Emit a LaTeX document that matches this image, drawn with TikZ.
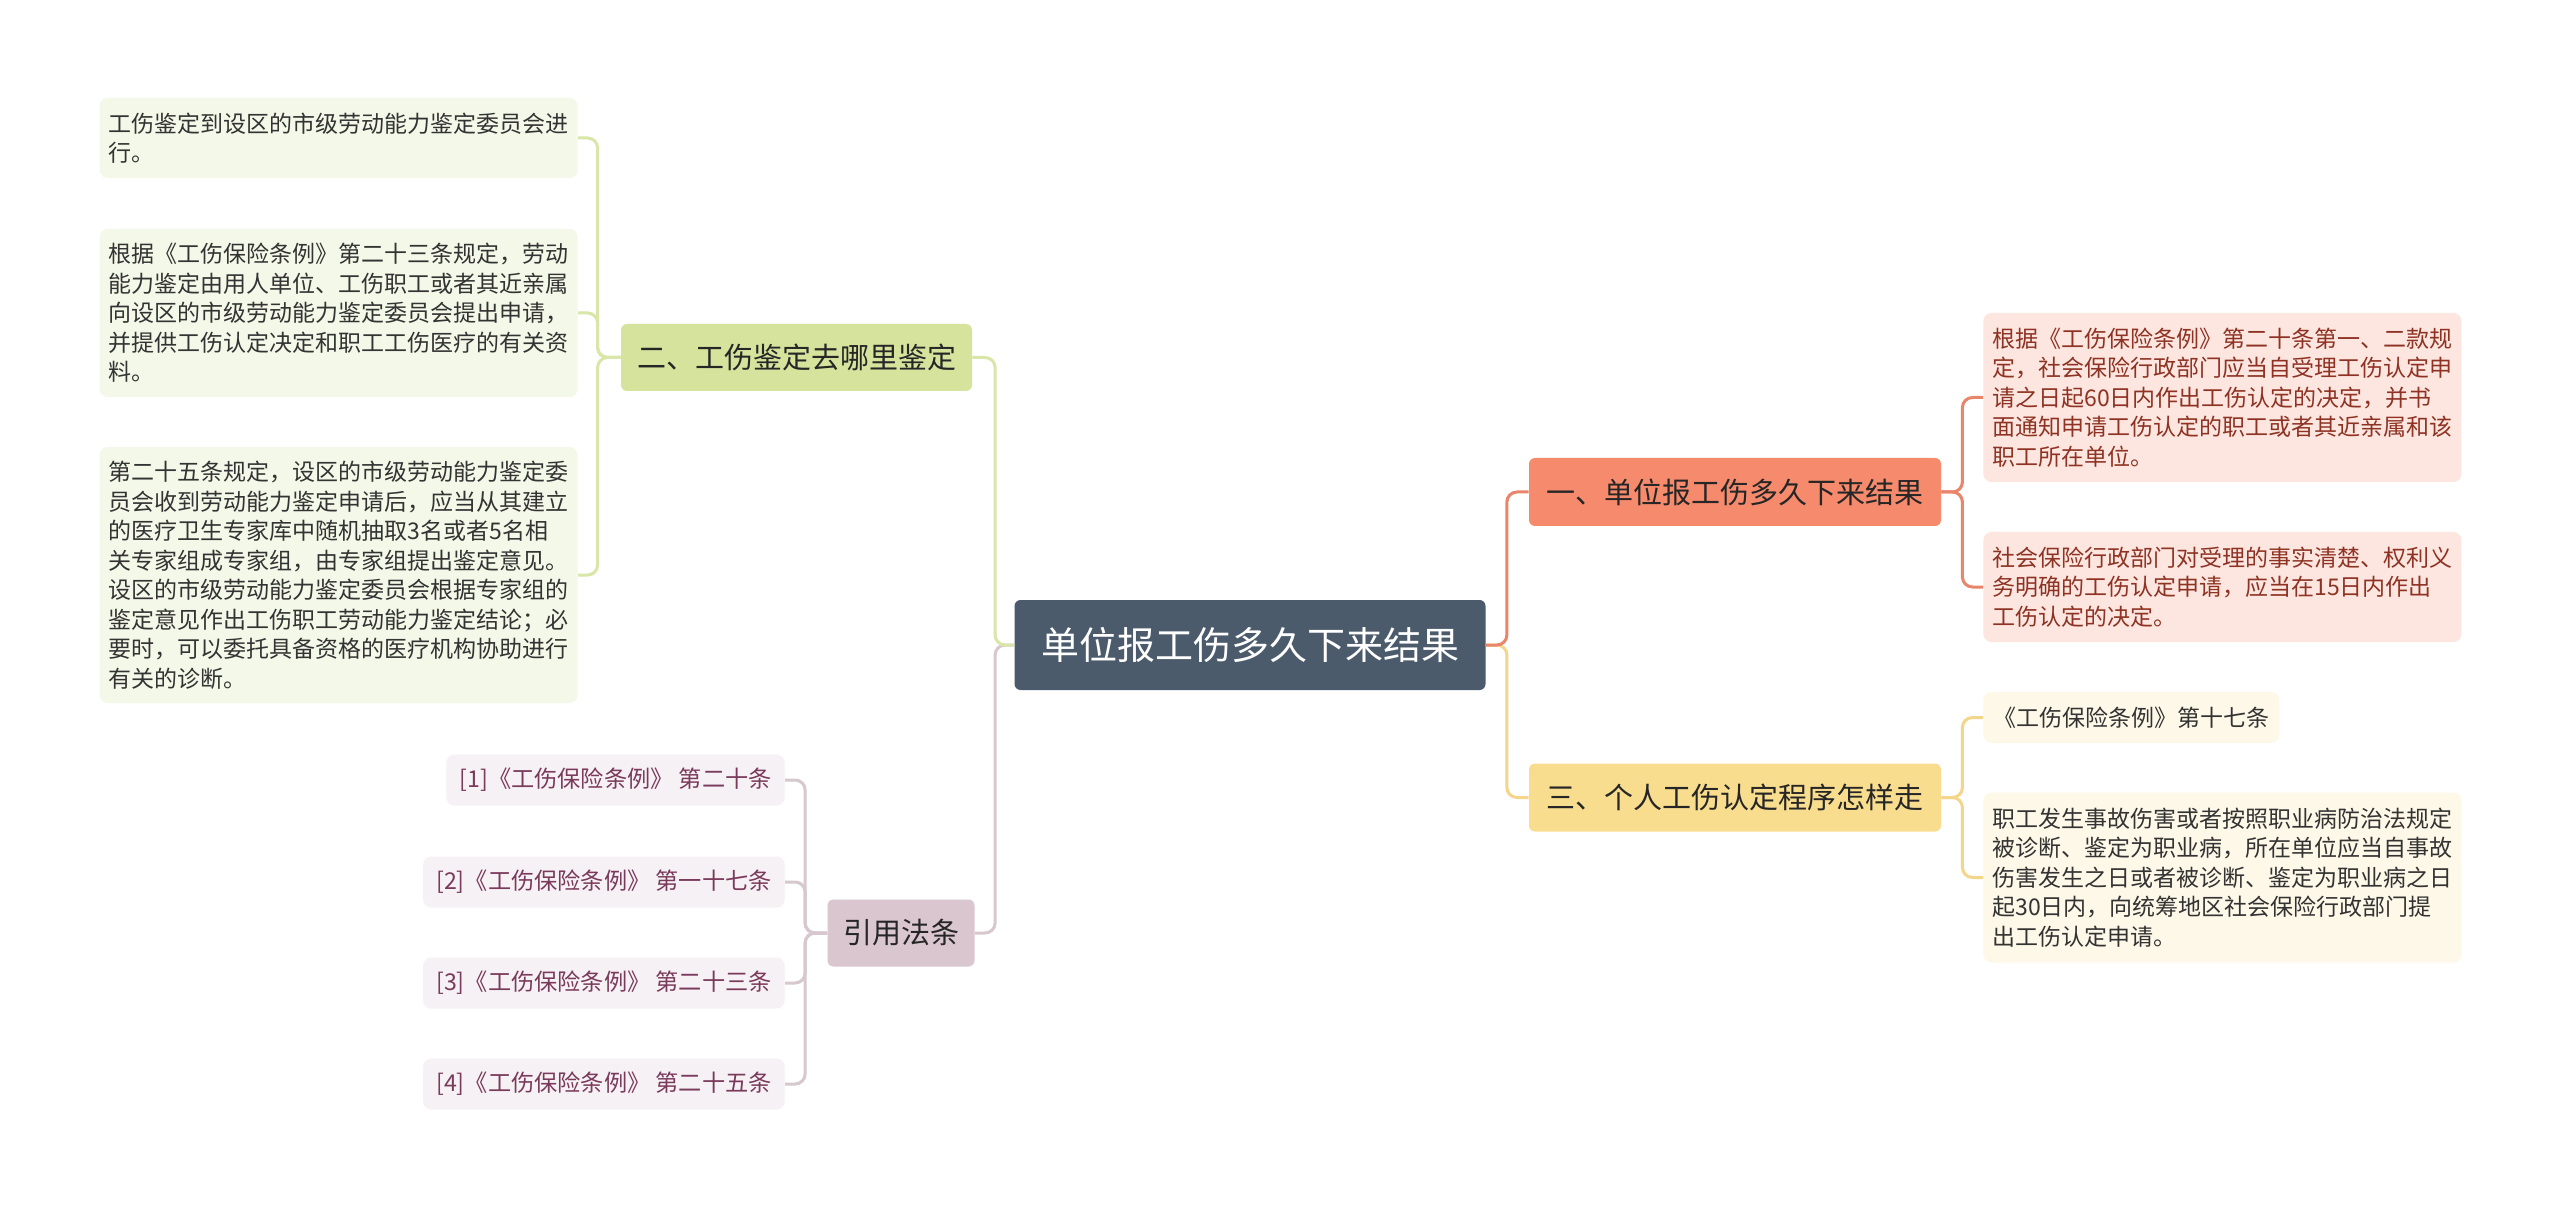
\documentclass[tikz,border=0pt]{standalone}
\usepackage{fontspec}
\setmainfont{Noto Sans CJK SC}
\usepackage{xcolor}
\definecolor{mmSlate}{HTML}{4B5B6B}
\definecolor{mmOrange}{HTML}{F68A6C}
\definecolor{mmOrangeLine}{HTML}{E9856B}
\definecolor{mmPink}{HTML}{FDE6E0}
\definecolor{mmPinkText}{HTML}{8E3323}
\definecolor{mmYellow}{HTML}{F8DD8E}
\definecolor{mmYellowLine}{HTML}{F3D68A}
\definecolor{mmCream}{HTML}{FEF8E8}
\definecolor{mmGreen}{HTML}{D5E39D}
\definecolor{mmGreenLine}{HTML}{D9E6A8}
\definecolor{mmPaleGreen}{HTML}{F4F8E8}
\definecolor{mmMauve}{HTML}{D9C6CE}
\definecolor{mmMauveLine}{HTML}{D6C8CE}
\definecolor{mmPaleMauve}{HTML}{F6F1F4}
\definecolor{mmPlumText}{HTML}{7A3A5C}
\usetikzlibrary{positioning}

\begin{document}
\begin{tikzpicture}[x=0.5pt,y=-0.5pt,
  box/.style={rounded corners=3pt,inner sep=0pt,align=center},
  topic/.style={box,font=\fontsize{14.5pt}{17pt}\selectfont,text=black!85,minimum height=34pt},
  leaf/.style={rounded corners=4pt,inner xsep=4.5pt,inner ysep=3pt,align=left,font=\fontsize{11.5pt}{14.75pt}\selectfont},
  para/.style={leaf,text width=230pt},
  ref/.style={rounded corners=4pt,inner xsep=6.5pt,minimum height=25.5pt,font=\fontsize{11.6pt}{14pt}\selectfont,text=mmPlumText,fill=mmPaleMauve,anchor=east},
  link/.style={line width=1.5pt,rounded corners=5pt}]
  \fill[white] (0,0) rectangle (2560,1208);
  \useasboundingbox (0,0) rectangle (2560,1208);

  % centre and main topics
  \node[box,fill=mmSlate,text=white,font=\fontsize{19pt}{22pt}\selectfont,minimum width=235.5pt,minimum height=45pt] (root) at (1250,645) {单位报工伤多久下来结果};
  \node[topic,fill=mmOrange,minimum width=206pt] (b1) at (1735,492) {一、单位报工伤多久下来结果};
  \node[topic,fill=mmYellow,minimum width=206pt] (b3) at (1735,797.5) {三、个人工伤认定程序怎样走};
  \node[topic,fill=mmGreen,minimum width=175.5pt,minimum height=33.5pt] (b2) at (796.5,357.5) {二、工伤鉴定去哪里鉴定};
  \node[topic,fill=mmMauve,minimum width=73.5pt,minimum height=33.5pt] (cite) at (901,933) {引用法条};

  % right leaves
  \node[para,fill=mmPink,text=mmPinkText,anchor=west,minimum height=84.5pt] (r1) at (1983,397.5)
    {根据《工伤保险条例》第二十条第一、二款规\\定，社会保险行政部门应当自受理工伤认定申\\请之日起60日内作出工伤认定的决定，并书\\面通知申请工伤认定的职工或者其近亲属和该\\职工所在单位。};
  \node[para,fill=mmPink,text=mmPinkText,anchor=west,minimum height=55pt] (r2) at (1983,587)
    {社会保险行政部门对受理的事实清楚、权利义\\务明确的工伤认定申请，应当在15日内作出\\工伤认定的决定。};
  \node[leaf,fill=mmCream,text=black!80,anchor=west,minimum height=25.5pt,inner xsep=5pt] (y1) at (1983,717.5) {《工伤保险条例》第十七条};
  \node[para,fill=mmCream,text=black!80,anchor=west,minimum height=85pt] (y2) at (1983,877.5)
    {职工发生事故伤害或者按照职业病防治法规定\\被诊断、鉴定为职业病，所在单位应当自事故\\伤害发生之日或者被诊断、鉴定为职业病之日\\起30日内，向统筹地区社会保险行政部门提\\出工伤认定申请。};

  % left leaves
  \node[para,fill=mmPaleGreen,text=black!80,anchor=east,minimum height=40pt] (g1) at (578,138)
    {工伤鉴定到设区的市级劳动能力鉴定委员会进\\行。};
  \node[para,fill=mmPaleGreen,text=black!80,anchor=east,minimum height=84pt] (g2) at (578,313)
    {根据《工伤保险条例》第二十三条规定，劳动\\能力鉴定由用人单位、工伤职工或者其近亲属\\向设区的市级劳动能力鉴定委员会提出申请，\\并提供工伤认定决定和职工工伤医疗的有关资\\料。};
  \node[para,fill=mmPaleGreen,text=black!80,anchor=east,minimum height=128pt] (g3) at (578,575)
    {第二十五条规定，设区的市级劳动能力鉴定委\\员会收到劳动能力鉴定申请后，应当从其建立\\的医疗卫生专家库中随机抽取3名或者5名相\\关专家组成专家组，由专家组提出鉴定意见。\\设区的市级劳动能力鉴定委员会根据专家组的\\鉴定意见作出工伤职工劳动能力鉴定结论；必\\要时，可以委托具备资格的医疗机构协助进行\\有关的诊断。};

  % citations
  \node[ref] (c1) at (785,780) {[1]《工伤保险条例》 第二十条};
  \node[ref] (c2) at (785,882) {[2]《工伤保险条例》 第一十七条};
  \node[ref] (c3) at (785,983) {[3]《工伤保险条例》 第二十三条};
  \node[ref] (c4) at (785,1084) {[4]《工伤保险条例》 第二十五条};

  % links
  \draw[link,mmYellowLine] (root.east) -- ++(21,0) |- (b3.west);
  \draw[link,mmOrangeLine] (root.east) -- ++(21,0) |- (b1.west);
  \draw[link,mmMauveLine] (root.west) -- ++(-19,0) |- (cite.east);
  \draw[link,mmGreenLine] (root.west) -- ++(-19,0) |- (b2.east);
  \foreach \k in {r1,r2}
    \draw[link,mmOrangeLine] (b1.east) -- ++(21,0) |- (\k.west);
  \foreach \k in {y1,y2}
    \draw[link,mmYellowLine] (b3.east) -- ++(21,0) |- (\k.west);
  \foreach \k in {g1,g2,g3}
    \draw[link,mmGreenLine] (b2.west) -- ++(-23,0) |- (\k.east);
  \foreach \k in {c1,c2,c3,c4}
    \draw[link,mmMauveLine] (cite.west) -- ++(-22,0) |- (\k.east);
\end{tikzpicture}
\end{document}
